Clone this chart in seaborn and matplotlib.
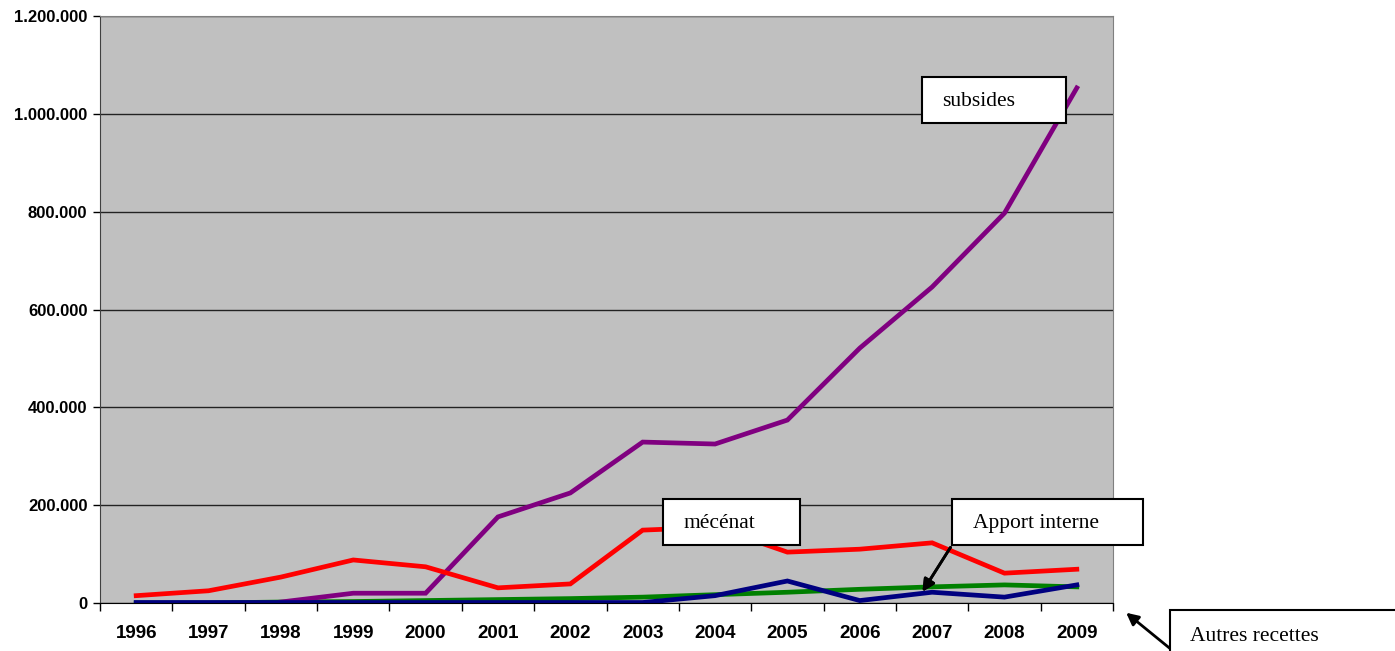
import matplotlib
matplotlib.use("Agg")
import matplotlib.pyplot as plt
import matplotlib.ticker as mticker
from matplotlib.patches import Rectangle
import numpy as np
import pandas as pd
import seaborn as sns

years = list(range(1996, 2010))
subsides = [np.nan, np.nan, 2000, 20000, 20000, 176000, 225000, 329000,
            325000, 374000, 521000, 646000, 797000, 1053000]
mecenat = [15000, 25000, 53000, 88000, 74000, 31000, 39000, 149000,
           155000, 104000, 110000, 123000, 61000, 69000]
apport_interne = [0, 0, 2000, 3000, 5000, 7000, 9000, 12000,
                  17000, 22000, 28000, 33000, 37000, 33000]
autres_recettes = [1000, 1000, 1000, 1000, 1000, 1000, 1000, 1000,
                   15000, 45000, 5000, 22000, 12000, 37000]

series = {
    "Apport interne": (apport_interne, "#008000"),
    "subsides": (subsides, "#800080"),
    "mécénat": (mecenat, "#FF0000"),
    "Autres recettes": (autres_recettes, "#000080"),
}

W, H = 1395, 651
fig = plt.figure(figsize=(W / 100, H / 100), dpi=100)
ax = fig.add_axes([100 / W, 1 - 603 / H, 1013 / W, 587 / H])
ax.set_facecolor("#C0C0C0")

for name, (vals, color) in series.items():
    df = pd.DataFrame({"year": years, "value": vals})
    sns.lineplot(data=df, x="year", y="value", color=color, linewidth=3.4,
                 ax=ax, solid_joinstyle="miter")

ax.set_xlim(1995.5, 2009.5)
ax.set_ylim(0, 1200000)
ax.set_xlabel("")
ax.set_ylabel("")

ax.set_xticks(years)
ax.set_xticklabels([str(y) for y in years], fontsize=13.5, fontweight="bold",
                   family="Liberation Sans")
ax.set_xticks(np.arange(1995.5, 2010, 1), minor=True)
ax.tick_params(axis="x", which="major", length=0, pad=16)
ax.tick_params(axis="x", which="minor", length=6, width=1, color="black")

ax.set_yticks(np.arange(0, 1200001, 200000))
ax.yaxis.set_major_formatter(
    mticker.FuncFormatter(lambda v, p: f"{int(v):,}".replace(",", ".")))
for lab in ax.get_yticklabels():
    lab.set_fontsize(12)
    lab.set_fontweight("bold")
    lab.set_family("Liberation Sans")
ax.tick_params(axis="y", length=5, width=1, color="black", pad=4)

ax.grid(axis="y", color="#222222", linewidth=1)
ax.grid(axis="x", visible=False)
ax.set_axisbelow(True)
for side in ["top", "right"]:
    ax.spines[side].set_color("#808080")
ax.spines["left"].set_color("#404040")
ax.spines["bottom"].set_color("black")


def label_box(x0, y0, x1, y1, text, tx):
    # box given in image pixels (top-left origin)
    rect = Rectangle((x0 / W, 1 - y1 / H), (x1 - x0) / W, (y1 - y0) / H,
                     transform=fig.transFigure, facecolor="white",
                     edgecolor="black", linewidth=1.5, zorder=10,
                     clip_on=False)
    fig.add_artist(rect)
    fig.text(tx / W, 1 - ((y0 + y1) / 2 + 6) / H, text, fontsize=15.5,
             family="Liberation Serif", va="baseline", ha="left", zorder=11)


label_box(922, 77, 1066, 123, "subsides", 942)
label_box(663, 499, 800, 545, "mécénat", 683)
label_box(952, 499, 1143, 545, "Apport interne", 973)
label_box(1170, 610, 1400, 660, "Autres recettes", 1190)

arrow = dict(arrowstyle="-|>", color="black", lw=2, mutation_scale=18)
fig.add_artist(plt.annotate("", xy=(921, H - 594), xytext=(952, H - 545),
                            xycoords="figure pixels",
                            textcoords="figure pixels", arrowprops=arrow,
                            zorder=12))
ax.annotate("", xy=(1124, H - 611), xytext=(1178, H - 655),
            xycoords="figure pixels", textcoords="figure pixels",
            arrowprops=arrow, annotation_clip=False, zorder=12)

fig.savefig("out.png", dpi=100)
